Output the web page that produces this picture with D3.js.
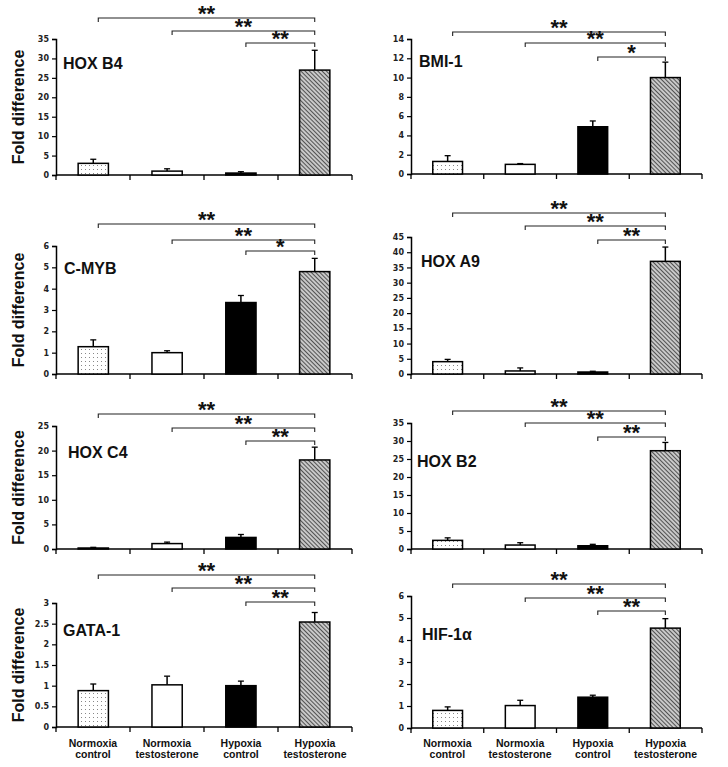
<!DOCTYPE html>
<html>
<head>
<meta charset="utf-8">
<script src="https://cdn.jsdelivr.net/npm/d3@7"></script>
<style>
  html, body { margin: 0; padding: 0; background: #fff; }
  svg { display: block; }
</style>
</head>
<body>
<svg id="chart" width="728" height="767"></svg>
<script>
// ---------- DATA ----------
const genes = ["HOX B4", "BMI-1", "C-MYB", "HOX A9", "HOX C4", "HOX B2", "GATA-1", "HIF-1α"];
const groups = ["Normoxia control", "Normoxia testosterone", "Hypoxia control", "Hypoxia testosterone"];
const groupLines = [["Normoxia", "control"], ["Normoxia", "testosterone"], ["Hypoxia", "control"], ["Hypoxia", "testosterone"]];
const meanValues = [
  [3.0, 1.0, 0.5, 27.0],
  [1.3, 1.0, 4.9, 10.0],
  [1.28, 1.0, 3.35, 4.8],
  [4.05, 1.0, 0.65, 37.0],
  [0.2, 1.1, 2.35, 18.1],
  [2.4, 1.1, 0.9, 27.3],
  [0.88, 1.02, 1.0, 2.54],
  [0.8, 1.02, 1.4, 4.54]
];
const errorValues = [
  [1.05, 0.6, 0.35, 5.1],
  [0.6, 0.08, 0.6, 1.6],
  [0.32, 0.09, 0.33, 0.62],
  [0.75, 1.0, 0.25, 4.7],
  [0.14, 0.3, 0.6, 2.6],
  [0.7, 0.65, 0.4, 2.3],
  [0.16, 0.21, 0.11, 0.23],
  [0.16, 0.24, 0.09, 0.43]
];
const axisMax = [35, 14, 6, 45, 25, 35, 3, 6];
const tickStep = [5, 2, 1, 5, 5, 5, 0.5, 1];
// comparisons: group i vs Hypoxia testosterone (i = 0,1,2)
const significance = [
  ["**", "**", "**"],
  ["**", "**", "*"],
  ["**", "**", "*"],
  ["**", "**", "**"],
  ["**", "**", "**"],
  ["**", "**", "**"],
  ["**", "**", "**"],
  ["**", "**", "**"]
];

// ---------- LAYOUT ----------
const colX = [[56, 352], [411, 702]];
const panelLayout = [
  { col: 0, y0: 175, y1: 39,  br: [18, 31, 43],    title: [63, 69] },
  { col: 1, y0: 174, y1: 39,  br: [32, 43, 57],    title: [419, 67] },
  { col: 0, y0: 374, y1: 246, br: [224, 240, 251], title: [64, 274] },
  { col: 1, y0: 374, y1: 237, br: [213, 226, 240], title: [421, 267] },
  { col: 0, y0: 549, y1: 426, br: [414, 428, 441], title: [68, 458] },
  { col: 1, y0: 549, y1: 423, br: [411, 423, 437], title: [417, 467] },
  { col: 0, y0: 727, y1: 603, br: [575, 588, 602], title: [63, 636] },
  { col: 1, y0: 728, y1: 596, br: [584, 598, 611], title: [422, 640] }
];
const fills = ["url(#dots)", "#ffffff", "#000000", "url(#hatch)"];

const svg = d3.select("#chart");
const defs = svg.append("defs");

// dotted pattern
const dots = defs.append("pattern").attr("id", "dots")
  .attr("patternUnits", "userSpaceOnUse").attr("width", 4).attr("height", 4);
dots.append("rect").attr("width", 4).attr("height", 4).attr("fill", "#fff");
dots.append("rect").attr("x", 1).attr("y", 1).attr("width", 1).attr("height", 1).attr("fill", "#888");

// hatched pattern (lines running top-left to bottom-right)
const hatch = defs.append("pattern").attr("id", "hatch")
  .attr("patternUnits", "userSpaceOnUse").attr("width", 3).attr("height", 3)
  .attr("patternTransform", "rotate(-45)");
hatch.append("rect").attr("width", 3).attr("height", 3).attr("fill", "#c8c8c8");
hatch.append("line").attr("x1", 0).attr("y1", 0).attr("x2", 0).attr("y2", 3)
  .attr("stroke", "#2a2a2a").attr("stroke-width", 1.5);

const sans = "'Liberation Sans', Arial, Helvetica, sans-serif";

genes.forEach((gene, p) => {
  const L = panelLayout[p];
  const [x0, x1] = colX[L.col];
  const g = svg.append("g");

  const x = d3.scaleBand().domain(groups).range([x0, x1]).paddingInner(0.59).paddingOuter(0.3);
  const y = d3.scaleLinear().domain([0, axisMax[p]]).range([L.y0, L.y1]);
  const cx = i => x(groups[i]) + x.bandwidth() / 2;

  // y axis
  const ticks = d3.range(0, axisMax[p] + tickStep[p] / 2, tickStep[p]);
  const yAxis = d3.axisLeft(y).tickValues(ticks).tickSize(4).tickPadding(3)
    .tickFormat(d3.format("~g"));
  const ya = g.append("g").attr("transform", `translate(${x0},0)`).call(yAxis);
  ya.select(".domain").attr("stroke", "#000").attr("stroke-width", 1.5);
  ya.selectAll(".tick line").attr("stroke", "#000").attr("stroke-width", 1.2);
  ya.selectAll(".tick text")
    .attr("font-family", "'DejaVu Sans', Verdana, sans-serif")
    .attr("font-weight", "bold").attr("font-size", 8).attr("fill", "#222");

  // x axis line with ticks at slot boundaries
  const boundaries = d3.range(0, 5).map(k => x0 + k * (x1 - x0) / 4);
  g.append("line").attr("x1", x0).attr("x2", x1).attr("y1", L.y0).attr("y2", L.y0)
    .attr("stroke", "#000").attr("stroke-width", 1.5);
  g.selectAll(".xt").data(boundaries).join("line")
    .attr("x1", d => d).attr("x2", d => d)
    .attr("y1", L.y0).attr("y2", L.y0 + 5)
    .attr("stroke", "#000").attr("stroke-width", 1.3);

  // error bars
  groups.forEach((grp, i) => {
    const v = meanValues[p][i], e = errorValues[p][i];
    const c = cx(i);
    g.append("line").attr("x1", c).attr("x2", c).attr("y1", y(v)).attr("y2", y(v + e))
      .attr("stroke", "#000").attr("stroke-width", 1.5);
    g.append("line").attr("x1", c - 3).attr("x2", c + 3).attr("y1", y(v + e)).attr("y2", y(v + e))
      .attr("stroke", "#000").attr("stroke-width", 1.3);
  });

  // bars
  g.selectAll(".bar").data(groups).join("rect")
    .attr("x", d => x(d))
    .attr("width", x.bandwidth())
    .attr("y", (d, i) => y(meanValues[p][i]))
    .attr("height", (d, i) => L.y0 - y(meanValues[p][i]))
    .attr("fill", (d, i) => fills[i])
    .attr("stroke", "#000").attr("stroke-width", 1.5);

  // significance brackets
  significance[p].forEach((s, i) => {
    const by = L.br[i];
    const left = cx(i) + 5, right = cx(3);
    g.append("path")
      .attr("d", `M${left},${by + 4}V${by}H${right}V${by + 4}`)
      .attr("fill", "none").attr("stroke", "#222").attr("stroke-width", 1.1);
    g.append("text")
      .attr("x", (left + right) / 2).attr("y", by + 3)
      .attr("text-anchor", "middle")
      .attr("font-family", sans).attr("font-weight", "bold").attr("font-size", 22)
      .attr("fill", "#111")
      .text(s);
  });

  // title
  g.append("text").attr("x", L.title[0]).attr("y", L.title[1])
    .attr("font-family", sans).attr("font-weight", "bold").attr("font-size", 16)
    .attr("fill", "#111").text(gene);

  // y-axis label (left column)
  if (L.col === 0) {
    g.append("text")
      .attr("transform", `translate(24,${(L.y0 + L.y1) / 2}) rotate(-90)`)
      .attr("text-anchor", "middle")
      .attr("font-family", sans).attr("font-weight", "bold").attr("font-size", 16)
      .attr("fill", "#111").text("Fold difference");
  }

  // category labels (bottom row)
  if (p >= 6) {
    groupLines.forEach((lines, i) => {
      const t = g.append("text").attr("text-anchor", "middle")
        .attr("font-family", sans).attr("font-weight", "bold").attr("font-size", 10.5)
        .attr("fill", "#111");
      lines.forEach((ln, k) => {
        t.append("tspan").attr("x", (boundaries[i] + boundaries[i + 1]) / 2)
          .attr("y", 747 + k * 11).text(ln);
      });
    });
  }
});
</script>
</body>
</html>
